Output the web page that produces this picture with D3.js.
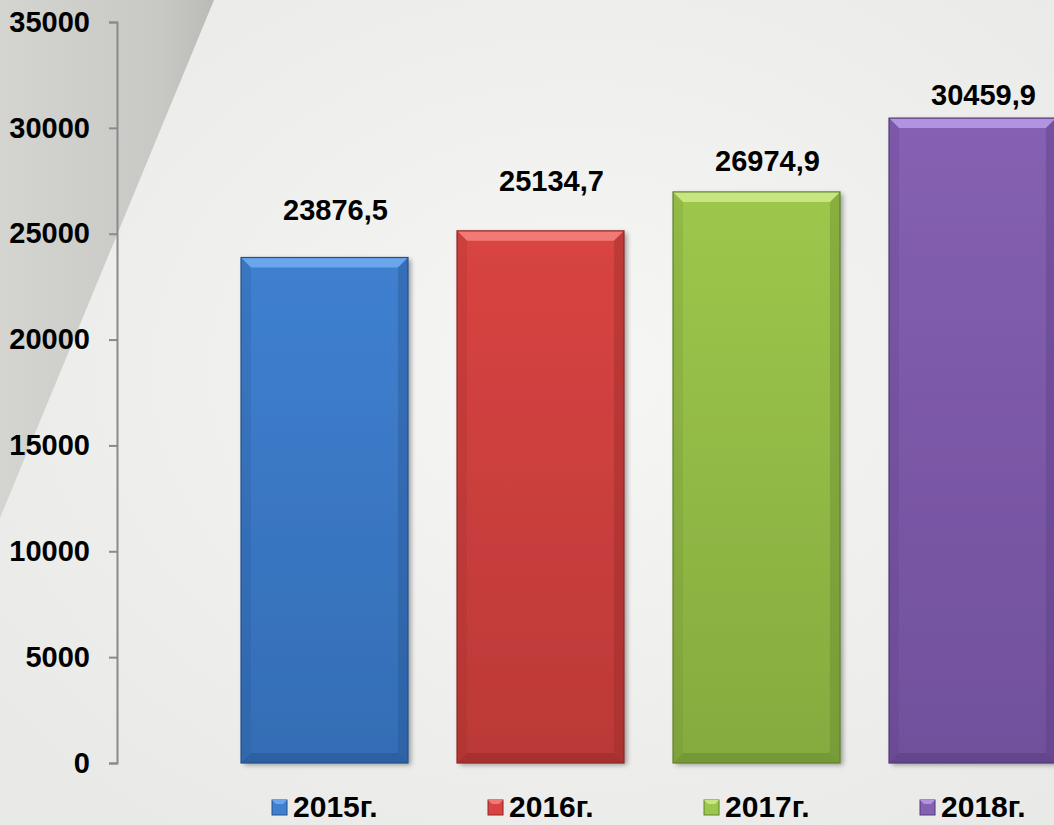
<!DOCTYPE html>
<html lang="ru">
<head>
<meta charset="UTF-8">
<title>bars 2015-2018</title>
<script src="https://d3js.org/d3.v7.min.js"></script>
<style>
    body{ margin:0; background:#efefed; }
    svg{ display:block; font-family:"Liberation Sans", Arial, sans-serif; }
    .axis text{ font-size:29px; font-weight:bold; fill:#000; }
    .axis path, .axis line{ stroke:#8a8a8a; stroke-width:2px; }
    .val{ font-size:29px; font-weight:bold; fill:#000; }
    .leg{ font-size:30px; font-weight:bold; fill:#000; }
</style>
</head>
<body>
<svg id="chart" width="1054" height="825"></svg>
<script>
    let years = ["2015г.", "2016г.", "2017г.", "2018г."]
    let values = [23876.5, 25134.7, 26974.9, 30459.9]
    let labels = ["23876,5", "25134,7", "26974,9", "30459,9"]
    let yTicks = [0, 5000, 10000, 15000, 20000, 25000, 30000, 35000]

    // colours: light, mid, dark for each bar
    let palette = [
        ["#6aa6ec", "#3f80d0", "#24508c"],
        ["#f27a76", "#d94442", "#8e2826"],
        ["#c8e680", "#9dc74c", "#62822a"],
        ["#b193e0", "#8660b2", "#52397a"]
    ]
    let labelLift = [46, 48, 29, 21]

    let svg = d3.select("#chart")
    let W = 1054, H = 825

    // background
    let defs = svg.append("defs")
    let bg = defs.append("radialGradient").attr("id", "bg")
        .attr("cx", "55%").attr("cy", "45%").attr("r", "70%")
    bg.append("stop").attr("offset", "0%").attr("stop-color", "#f6f6f5")
    bg.append("stop").attr("offset", "100%").attr("stop-color", "#e9e9e7")
    svg.append("rect").attr("width", W).attr("height", H).attr("fill", "url(#bg)")

    let band = defs.append("linearGradient").attr("id", "band")
        .attr("x1", "0").attr("y1", "0").attr("x2", "1").attr("y2", "0")
    band.append("stop").attr("offset", "0%").attr("stop-color", "#d4d4d0")
    band.append("stop").attr("offset", "75%").attr("stop-color", "#c8c8c4")
    band.append("stop").attr("offset", "100%").attr("stop-color", "#babab6")
    svg.append("path")
        .attr("d", "M0,0 L214,0 L0,518 Z")
        .attr("fill", "url(#band)")

    let shadow = defs.append("filter").attr("id", "shadow")
        .attr("x", "-5%").attr("y", "-5%").attr("width", "115%").attr("height", "110%")
    shadow.append("feDropShadow").attr("dx", 3).attr("dy", 2).attr("stdDeviation", 2.5)
        .attr("flood-color", "#000").attr("flood-opacity", 0.35)

    let y = d3.scaleLinear().domain([0, 35000]).range([763, 22])
    let x = d3.scaleBand().domain(years)
        .range([216.5, 1080.5]).paddingInner(0.227).paddingOuter(0.1135)

    svg.append("g").attr("class", "axis")
        .attr("transform", "translate(117,0)")
        .call(d3.axisLeft(y).tickValues(yTicks).tickFormat(d3.format("d"))
            .tickSize(8).tickSizeOuter(8).tickPadding(19))

    // vertical gradient for each bar
    palette.forEach(function (c, i) {
        let g = defs.append("linearGradient").attr("id", "bar" + i)
            .attr("x1", "0").attr("y1", "0").attr("x2", "0").attr("y2", "1")
        g.append("stop").attr("offset", "0%").attr("stop-color", c[1])
        g.append("stop").attr("offset", "100%").attr("stop-color", d3.interpolateRgb(c[1], c[2])(0.4))
    })

    let bev = 10
    let bars = svg.append("g").selectAll("g").data(values).join("g")
        .attr("transform", function (d, i) { return "translate(" + x(years[i]) + "," + y(d) + ")" })

    bars.each(function (d, i) {
        let g = d3.select(this)
        let w = x.bandwidth(), h = y(0) - y(d)
        let c = palette[i]
        g.append("rect").attr("width", w).attr("height", h).attr("fill", "url(#bar" + i + ")")
            .attr("filter", "url(#shadow)")
        // bevel: top light, sides / bottom darker
        g.append("path").attr("d", "M0,0 L" + w + ",0 L" + (w - bev) + "," + bev + " L" + bev + "," + bev + " Z")
            .attr("fill", c[0])
        g.append("path").attr("d", "M0,0 L" + bev + "," + bev + " L" + bev + "," + (h - bev) + " L0," + h + " Z")
            .attr("fill", c[2]).attr("opacity", 0.18)
        g.append("path").attr("d", "M" + w + ",0 L" + w + "," + h + " L" + (w - bev) + "," + (h - bev) + " L" + (w - bev) + "," + bev + " Z")
            .attr("fill", c[2]).attr("opacity", 0.35)
        g.append("path").attr("d", "M0," + h + " L" + bev + "," + (h - bev) + " L" + (w - bev) + "," + (h - bev) + " L" + w + "," + h + " Z")
            .attr("fill", c[2]).attr("opacity", 0.45)
        g.append("rect").attr("width", w).attr("height", h).attr("fill", "none")
            .attr("stroke", c[2]).attr("stroke-width", 1.2)
    })

    svg.append("g").selectAll("text").data(values).join("text")
        .attr("class", "val")
        .attr("text-anchor", "middle")
        .attr("x", function (d, i) { return x(years[i]) + x.bandwidth() / 2 + 11 })
        .attr("y", function (d, i) { return y(d) - labelLift[i] + 8 })
        .text(function (d, i) { return labels[i] })

    // legend
    let leg = svg.append("g").selectAll("g").data(years).join("g")
        .attr("transform", function (d, i) { return "translate(" + (x(d) + 31) + ",800)" })
    leg.append("rect").attr("width", 15).attr("height", 15)
        .attr("fill", function (d, i) { return palette[i][1] })
        .attr("stroke", function (d, i) { return palette[i][2] })
    leg.append("path").attr("d", "M0,0 L15,0 L11,4 L4,4 Z")
        .attr("fill", function (d, i) { return palette[i][0] })
    leg.append("text").attr("class", "leg")
        .attr("x", 21).attr("y", 17)
        .text(function (d) { return d })
</script>
</body>
</html>
